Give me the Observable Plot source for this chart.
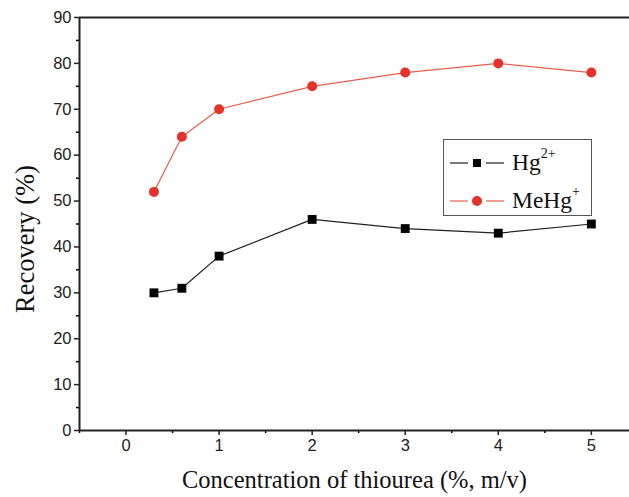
<!DOCTYPE html>
<html><head><meta charset="utf-8">
<script src="https://cdn.jsdelivr.net/npm/d3@7"></script>
<script src="https://cdn.jsdelivr.net/npm/@observablehq/plot@0.6"></script>
<style>
body{margin:0;background:#fff;}
#wrap{position:relative;width:629px;height:497px;}
svg text{font-family:"Liberation Sans",Arial,sans-serif;}
g[aria-label="y-axis tick label"] text, g[aria-label="x-axis tick label"] text{font-size:16.5px;fill:#222;}
g[aria-label="x-axis label"] text{font-family:"Liberation Serif","Times New Roman",serif;font-size:24.5px;fill:#111;}
svg g.ylab text{font-family:"Liberation Serif","Times New Roman",serif;font-size:26.5px;fill:#111;}
#legend{position:absolute;left:443px;top:139px;width:147px;height:75px;border:1.5px solid #555;background:#fff;font-family:"Liberation Serif","Times New Roman",serif;font-size:23.5px;color:#111;}
#legend .row{position:absolute;left:0;height:30px;display:flex;align-items:center;}
#legend svg{display:block}
</style></head>
<body><div id="wrap"></div>
<script>
const concentration = [0.3, 0.6, 1, 2, 3, 4, 5];
const hgValues = [30, 31, 38, 46, 44, 43, 45];
const mehgValues = [52, 64, 70, 75, 78, 80, 78];
const xMajorTicks = [0, 1, 2, 3, 4, 5];
const xMinorTicks = [-0.5, 0.5, 1.5, 2.5, 3.5, 4.5];
const yMajorTicks = [0, 10, 20, 30, 40, 50, 60, 70, 80, 90];
const yMinorTicks = [5, 15, 25, 35, 45, 55, 65, 75, 85];
const xLabel = "Concentration of thiourea (%, m/v)";
const yLabel = "Recovery (%)";

const hg = concentration.map((c, i) => ({x: c, y: hgValues[i]}));
const mehg = concentration.map((c, i) => ({x: c, y: mehgValues[i]}));
const red = "#e5322a";

const chart = Plot.plot({
  width: 629, height: 497,
  marginLeft: 79, marginRight: 0, marginTop: 17, marginBottom: 67,
  x: {domain: [-0.5, 5.41]},
  y: {domain: [0, 90]},
  marks: [
    Plot.axisY({ticks: yMajorTicks, tickSize: 5, tickPadding: 3, label: null, color: "#222", strokeWidth: 1.5}),
    Plot.axisY({ticks: yMinorTicks, tickSize: 3, tickFormat: () => "", label: null, strokeWidth: 1.5}),
    Plot.axisX({ticks: xMajorTicks, tickSize: 5, tickPadding: 4, tickFormat: d3.format("d"), label: xLabel, labelAnchor: "center", labelArrow: "none", labelOffset: 57, color: "#222", strokeWidth: 1.5}),
    Plot.axisX({ticks: xMinorTicks, tickSize: 3, tickFormat: () => "", label: null, strokeWidth: 1.5}),
    Plot.text([yLabel], {frameAnchor: "left", textAnchor: "middle", rotate: -90, dx: -54, dy: 15, text: d => d, className: "ylab"}),
    Plot.ruleY([0], {stroke: "#222", strokeWidth: 2}),
    Plot.ruleY([90], {stroke: "#222", strokeWidth: 2}),
    Plot.ruleX([-0.5], {stroke: "#222", strokeWidth: 2}),
    Plot.line(mehg, {x: "x", y: "y", stroke: "#e8604f", strokeWidth: 1.2}),
    Plot.dot(mehg, {x: "x", y: "y", r: 5, fill: red, stroke: null}),
    Plot.line(hg, {x: "x", y: "y", stroke: "#222", strokeWidth: 1.2}),
    Plot.dot(hg, {x: "x", y: "y", symbol: "square", r: 5, fill: "#000", stroke: null})
  ]
});
const wrap = document.getElementById("wrap");
wrap.appendChild(chart);

const legend = document.createElement("div");
legend.id = "legend";
legend.innerHTML = `
<div class="row" style="top:7px"><svg width="68" height="30"><line x1="6" x2="24" y1="16" y2="16" stroke="#222" stroke-width="1.2"/><line x1="42" x2="60" y1="16" y2="16" stroke="#222" stroke-width="1.2"/><rect x="29" y="12" width="8" height="8" fill="#000"/></svg><span>Hg<sup style="font-size:14px;position:relative;top:-3px">2+</sup></span></div>
<div class="row" style="top:45px"><svg width="68" height="30"><line x1="6" x2="24" y1="16" y2="16" stroke="#e8604f" stroke-width="1.2"/><line x1="42" x2="60" y1="16" y2="16" stroke="#e8604f" stroke-width="1.2"/><circle cx="33" cy="16" r="5" fill="${red}"/></svg><span>MeHg<sup style="font-size:14px;position:relative;top:-3px">+</sup></span></div>`;
wrap.appendChild(legend);
</script></body></html>
